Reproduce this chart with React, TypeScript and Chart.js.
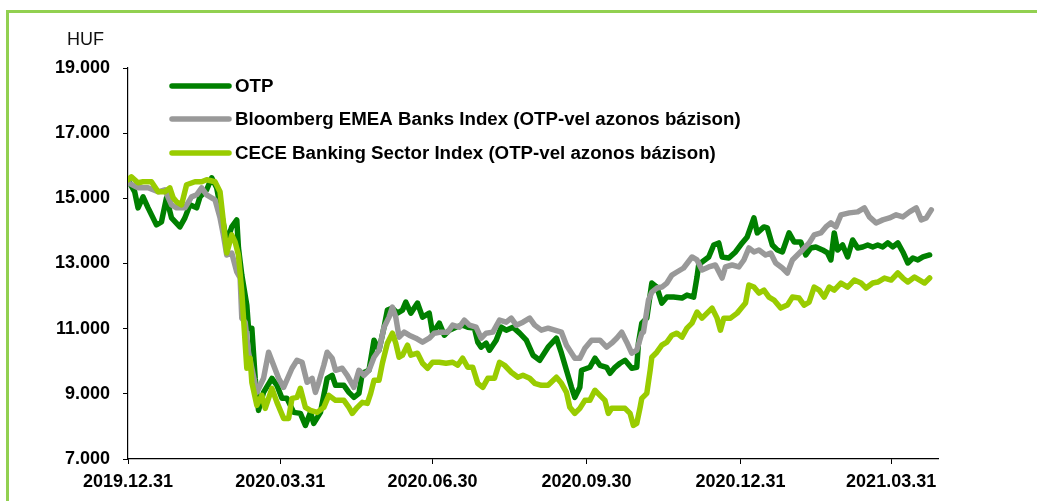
import React, { useEffect, useRef } from "react";
import { Chart, registerables } from "chart.js";

Chart.register(...registerables);

// x values: calendar days since 2019.12.31
const tickDays = [0, 91, 182, 274, 366, 456];
const tickLabels = ["2019.12.31", "2020.03.31", "2020.06.30", "2020.09.30", "2020.12.31", "2021.03.31"];

const seriesNames = [
  "OTP",
  "Bloomberg EMEA Banks Index (OTP-vel azonos bázison)",
  "CECE Banking Sector Index (OTP-vel azonos bázison)",
];

const otpDays = [0,4,6,9,12,17,20,23,26,31,34,37,41,43,47,50,53,56,59,62,65,66,68,71,72,74,76,78,81,86,89,92,95,99,103,106,109,111,115,119,122,124,129,132,135,138,140,144,147,150,153,155,158,161,164,166,169,173,176,180,182,186,189,192,196,200,203,207,209,211,214,216,220,223,226,230,234,238,242,246,251,256,259,262,265,267,270,271,276,279,282,286,288,291,294,297,301,304,305,307,310,313,316,319,322,326,331,334,338,340,341,343,347,350,353,355,359,363,367,370,374,376,380,382,385,388,391,395,398,402,405,408,411,415,418,420,422,424,427,430,433,436,439,442,445,448,451,454,457,460,463,466,469,472,475,479];
const otpValues = [15570,15200,14708,15046,14708,14185,14277,15016,14400,14123,14400,14800,14708,15046,15262,15631,15323,14493,13662,14123,14339,13477,12646,11723,11016,11016,9477,8492,9046,9477,9262,8862,8862,8431,8400,8031,8431,8092,8431,9477,9569,9262,9262,9046,8892,9015,9631,9723,10646,10339,11046,11569,11631,11477,11569,11816,11477,11785,11354,11477,10862,11169,10800,10954,11046,11108,11046,11016,10585,10431,10554,10339,10646,11046,10954,11046,10862,10646,10185,10031,10431,10708,10246,9723,9200,8892,9200,9723,9815,10093,9877,9815,9631,9815,9939,10031,9785,9815,10554,11169,11323,12400,12277,11785,11969,11969,11939,12031,11969,12585,12954,13046,13200,13569,13631,13200,13169,13354,13631,13816,14400,13939,14123,14093,13569,13416,13354,13939,13662,13662,13262,13477,13508,13416,13323,13108,13939,13416,13569,13200,13723,13477,13508,13569,13508,13569,13508,13631,13508,13631,13354,13015,13169,13108,13200,13262];

const bbgDays = [0,6,12,18,22,26,29,34,38,41,44,47,52,55,57,59,62,65,67,68,70,72,74,77,81,84,87,90,93,98,101,104,107,110,112,114,117,119,122,124,128,131,135,138,141,144,147,150,153,156,158,160,162,165,168,172,176,180,183,187,191,194,198,201,204,208,211,214,218,222,226,229,232,236,240,243,247,251,255,259,262,267,270,273,277,282,286,289,292,295,298,301,304,307,308,311,313,316,319,322,325,328,332,337,340,343,347,351,355,357,361,365,368,371,374,377,381,384,387,391,394,397,400,403,407,410,414,417,420,423,426,431,436,440,443,447,451,455,459,463,467,471,474,477,480];
const bbgValues = [15477,15323,15323,15200,15262,14800,14708,14708,15046,15108,15323,15108,14954,14400,13877,13262,13323,12739,12554,11323,11200,10277,9785,9046,9477,10277,9877,9477,9200,9785,10031,9969,9354,9477,9046,9354,9877,10277,10093,9723,9785,9569,9200,9723,9569,9723,10123,10339,11046,11354,11662,11354,10739,10893,10800,10708,10585,10708,10862,10893,10893,11108,11046,11262,11108,11046,10708,10862,10893,11262,11200,11323,11108,11200,11323,11108,10954,11016,10954,10893,10492,10093,10093,10400,10646,10646,10431,10554,10708,10893,10585,10246,10339,10862,10893,11877,12123,12246,12277,12400,12646,12739,12862,13200,13108,12800,12893,12954,12554,12893,12954,12893,13108,13477,13354,13416,13262,13323,13015,12862,12708,13108,13262,13416,13631,13877,13939,14123,14246,14123,14493,14554,14585,14708,14431,14246,14339,14400,14493,14431,14585,14708,14339,14400,14646];

const ceceDays = [0,2,6,9,14,18,22,25,27,29,32,35,40,44,47,52,55,57,59,62,64,66,68,71,73,74,77,80,82,86,89,93,96,98,101,103,106,109,113,117,120,124,129,132,134,137,140,143,145,147,150,152,155,158,160,162,164,167,169,173,176,179,182,186,190,194,197,200,203,206,209,212,215,219,222,225,229,233,236,240,243,247,251,256,259,262,264,267,270,273,276,279,282,285,287,289,294,297,300,302,304,306,307,310,312,313,316,319,322,325,328,331,334,337,340,343,346,349,352,354,356,360,364,367,369,371,374,377,380,383,386,390,394,397,401,404,407,410,413,416,419,422,426,430,434,438,441,445,448,452,456,460,463,466,470,473,476,479];
const ceceValues = [15570,15662,15477,15508,15508,15200,15200,15323,15016,14893,14800,15416,15508,15508,15570,15508,15200,14277,13323,13877,13662,13262,12123,9785,10093,9354,8646,8954,8554,9169,8739,8246,8246,8862,8892,9169,8585,8492,8431,8585,8954,8800,8800,8585,8400,8585,8739,8708,9015,9415,9415,9939,10554,10862,10554,10123,10185,10492,10185,10246,9939,9785,9969,9969,9939,9969,9877,10093,9815,9815,9323,9200,9477,9477,9969,9877,9662,9508,9569,9477,9323,9262,9262,9508,9323,9046,8585,8400,8554,8800,8800,9108,8954,8800,8400,8554,8554,8554,8400,8031,8092,8585,8862,9015,9723,10123,10277,10492,10585,10800,10862,10739,11016,11169,11508,11323,11477,11631,11323,10954,11323,11323,11477,11662,11785,12339,12277,12093,12185,11969,11877,11631,11723,11969,11939,11723,11816,12277,12185,11969,12277,12185,12400,12277,12492,12400,12246,12400,12431,12554,12492,12708,12554,12431,12585,12492,12400,12554];

const seriesColors = ["#008000", "#999999", "#99CC00"];
const FONT = '"Liberation Sans", Arial, sans-serif';

const toPoints = (days: number[], vals: number[]) => days.map((d, i) => ({ x: d, y: vals[i] }));

const overlayPlugin = {
  id: "overlay",
  afterDraw(chart: any) {
    const ctx = chart.ctx;
    ctx.save();
    ctx.fillStyle = "#111";
    ctx.font = `18px ${FONT}`;
    ctx.textBaseline = "alphabetic";
    ctx.textAlign = "left";
    ctx.fillText("HUF", 67, 45);
    const ys = [86, 119, 153];
    ctx.font = `bold 18.7px ${FONT}`;
    ctx.textBaseline = "middle";
    seriesNames.forEach((name, i) => {
      ctx.strokeStyle = seriesColors[i];
      ctx.lineWidth = 5.5;
      ctx.lineCap = "round";
      ctx.beginPath();
      ctx.moveTo(172, ys[i]);
      ctx.lineTo(229, ys[i]);
      ctx.stroke();
      ctx.fillStyle = "#000";
      ctx.fillText(name, 235, ys[i] + 1);
    });
    ctx.restore();
  },
};

export default function App() {
  const ref = useRef<HTMLCanvasElement>(null);
  useEffect(() => {
    if (!ref.current) return;
    const mk = (i: number, pts: any[], order: number) => ({
      label: seriesNames[i],
      data: pts,
      borderColor: seriesColors[i],
      backgroundColor: seriesColors[i],
      borderWidth: 5.5,
      pointRadius: 0,
      tension: 0,
      fill: false,
      borderJoinStyle: "round" as const,
      borderCapStyle: "round" as const,
      order,
    });
    const chart = new Chart(ref.current, {
      type: "line",
      data: {
        datasets: [
          mk(0, toPoints(otpDays, otpValues), 3),
          mk(1, toPoints(bbgDays, bbgValues), 2),
          mk(2, toPoints(ceceDays, ceceValues), 1),
        ],
      },
      options: {
        animation: false,
        responsive: false,
        devicePixelRatio: 1,
        layout: { padding: { left: 0, right: 99, top: 68, bottom: 0 } },
        plugins: { legend: { display: false }, tooltip: { enabled: false } },
        scales: {
          x: {
            type: "linear",
            min: 0,
            max: 484,
            afterBuildTicks: (s: any) => {
              s.ticks = tickDays.map((v) => ({ value: v }));
            },
            afterFit: (s: any) => {
              s.height = 42;
            },
            border: { display: true, color: "#000", width: 1.2 },
            grid: { display: true, drawOnChartArea: false, drawTicks: true, tickLength: 5, tickColor: "#000", color: "#000" },
            ticks: {
              autoSkip: false,
              maxRotation: 0,
              minRotation: 0,
              padding: 7,
              color: "#000",
              font: { family: FONT, size: 18, weight: "bold" },
              callback: (_v: any, idx: number) => tickLabels[idx],
            },
          },
          y: {
            type: "linear",
            min: 7000,
            max: 19000,
            afterBuildTicks: (s: any) => {
              const t = [];
              for (let v = 7000; v <= 19000; v += 2000) t.push({ value: v });
              s.ticks = t;
            },
            afterFit: (s: any) => {
              s.width = 128;
            },
            border: { display: true, color: "#000", width: 1.2 },
            grid: { display: true, drawOnChartArea: false, drawTicks: true, tickLength: 5, tickColor: "#000", color: "#000" },
            ticks: {
              padding: 13,
              color: "#000",
              font: { family: FONT, size: 18, weight: "bold" },
              callback: (v: any) => (Number(v) / 1000).toFixed(3),
            },
          },
        },
      },
      plugins: [overlayPlugin],
    });
    return () => chart.destroy();
  }, []);

  return (
    <div style={{ position: "fixed", left: 0, top: 0, width: 1037, height: 501, overflow: "hidden", background: "#fff" }}>
      <div
        style={{
          position: "absolute",
          left: 6,
          top: 10,
          width: 1100,
          height: 600,
          border: "3px solid #92D050",
          boxSizing: "border-box",
        }}
      />
      <canvas ref={ref} width={1037} height={501} style={{ position: "absolute", left: 0, top: 0, width: 1037, height: 501 }} />
    </div>
  );
}
